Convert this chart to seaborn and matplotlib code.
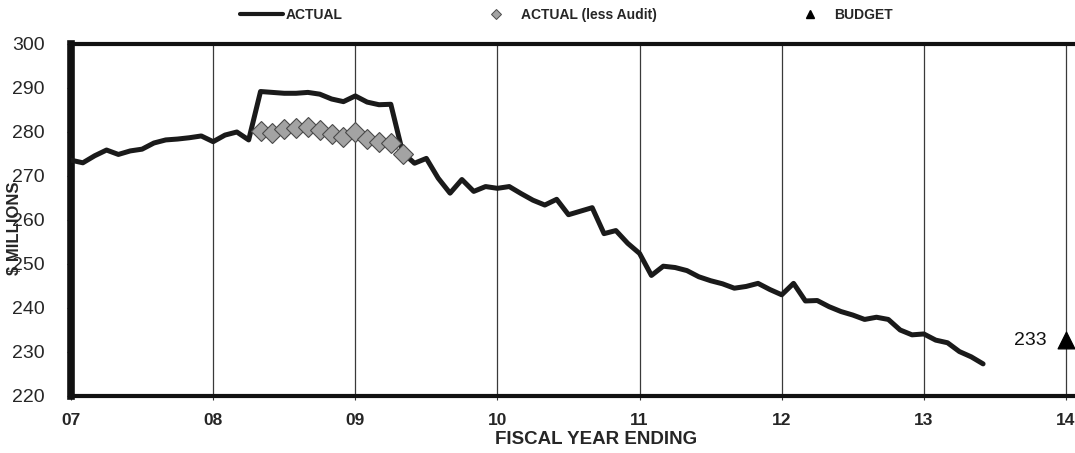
import numpy as np
import pandas as pd
import matplotlib
matplotlib.use("Agg")
import matplotlib.pyplot as plt
from matplotlib.lines import Line2D
import seaborn as sns

# ---------------- data ----------------
first_fiscal_year = 7          # series starts at FY "07"
actual = [273.6, 273.0, 274.6, 275.9, 274.9, 275.7, 276.1, 277.5, 278.2, 278.4, 278.7, 279.1,
          277.8, 279.3, 280.0, 278.2, 289.2, 289.0, 288.8, 288.8, 289.0, 288.6, 287.5, 286.9,
          288.2, 286.8, 286.2, 286.3, 275.3, 272.9, 274.0, 269.5, 266.1, 269.2, 266.5, 267.6,
          267.2, 267.6, 266.0, 264.5, 263.4, 264.7, 261.2, 262.0, 262.8, 256.9, 257.6, 254.7,
          252.4, 247.4, 249.5, 249.2, 248.5, 247.1, 246.2, 245.5, 244.5, 244.9, 245.6, 244.2,
          243.0, 245.6, 241.6, 241.7, 240.3, 239.2, 238.4, 237.4, 237.9, 237.4, 235.0, 233.9,
          234.1, 232.7, 232.1, 230.1, 228.9, 227.3]
less_audit_start_month = 16
less_audit = [280.3, 279.8, 280.7, 280.8, 281.1, 280.5, 279.5, 278.8, 280.1, 278.4,
              277.8, 277.5, 275.0]
budget_year = 14
budget_value = 232.7
budget_label = "233"
year_ticks = [7, 8, 9, 10, 11, 12, 13, 14]
year_labels = ["07", "08", "09", "10", "11", "12", "13", "14"]
y_ticks = [220, 230, 240, 250, 260, 270, 280, 290, 300]
legend_labels = ["ACTUAL", "ACTUAL (less Audit)", "BUDGET"]

df_actual = pd.DataFrame({
    "year": first_fiscal_year + np.arange(len(actual)) / 12.0,
    "value": actual,
})
df_audit = pd.DataFrame({
    "year": first_fiscal_year + (less_audit_start_month + np.arange(len(less_audit))) / 12.0,
    "value": less_audit,
})
df_budget = pd.DataFrame({"year": [budget_year], "value": [budget_value]})

# ---------------- style ----------------
sns.set_theme(style="white")
plt.rcParams["font.family"] = ["Liberation Sans", "DejaVu Sans"]

W, H = 1075, 453
fig = plt.figure(figsize=(W / 100, H / 100), dpi=100)
left_px, right_px, top_px, bottom_px = 71, 1075, 44, 396
ax = fig.add_axes([left_px / W, 1 - bottom_px / H, (right_px - left_px) / W, (bottom_px - top_px) / H])

line_col = "#1a1a1a"
sns.lineplot(data=df_actual, x="year", y="value", ax=ax, color=line_col, linewidth=3.6,
             sort=False, estimator=None, zorder=3)
ax.lines[-1].set_solid_joinstyle("round")
ax.lines[-1].set_solid_capstyle("round")
sns.lineplot(data=df_audit, x="year", y="value", ax=ax, color="#9c9c9c", linewidth=1.5,
             sort=False, estimator=None, marker="D", markersize=10,
             markerfacecolor="#a3a3a3", markeredgecolor="#4a4a4a", markeredgewidth=0.8, zorder=4)
sns.scatterplot(data=df_budget, x="year", y="value", ax=ax, marker="^", s=12 ** 2,
                color="black", edgecolor="black", zorder=5, clip_on=False, legend=False)
ax.annotate(budget_label, xy=(budget_year, budget_value), xytext=(-14, 0),
            textcoords="offset points", ha="right", va="center", fontsize=14, color="#111")

x_right = first_fiscal_year + (budget_year - first_fiscal_year) * (right_px - left_px) / (1066 - left_px)
ax.set_xlim(first_fiscal_year, x_right)
ax.set_ylim(y_ticks[0], y_ticks[-1])
ax.set_xticks(year_ticks)
ax.set_xticklabels(year_labels, fontsize=12.5, fontweight="bold")
ax.set_yticks(y_ticks)
ax.set_yticklabels([str(v) for v in y_ticks], fontsize=14)
ax.tick_params(axis="y", direction="out", length=3, width=0.8, color="#333", pad=16, left=True)
ax.tick_params(axis="x", direction="out", length=3, width=0.8, color="#333", pad=9, bottom=True)
ax.grid(axis="x", color="#3a3a3a", linewidth=0.9)
ax.grid(axis="y", visible=False)

for side, lw in (("left", 5.5), ("bottom", 3.0), ("top", 3.0)):
    ax.spines[side].set_visible(True)
    ax.spines[side].set_color("#111")
    ax.spines[side].set_linewidth(lw)
ax.spines["right"].set_visible(False)

ax.set_ylabel("\\$ MILLIONS", fontsize=12, fontweight="bold")
ax.yaxis.set_label_coords((15 - left_px) / (right_px - left_px), (bottom_px - 228) / (bottom_px - top_px))
ax.yaxis.label.set_va("center")
ax.set_xlabel("FISCAL YEAR ENDING", fontsize=13.5, fontweight="bold")
ax.xaxis.set_label_coords((596 - left_px) / (right_px - left_px), (bottom_px - 439) / (bottom_px - top_px))
ax.xaxis.label.set_va("center")

handles = [
    Line2D([], [], color=line_col, linewidth=3),
    Line2D([], [], linestyle="", marker="D", markersize=5, markerfacecolor="#a3a3a3",
           markeredgecolor="#4a4a4a", markeredgewidth=0.7),
    Line2D([], [], linestyle="", marker="^", markersize=6, color="black"),
]
fig.legend(handles, legend_labels, ncol=3, loc="center",
           bbox_to_anchor=(566.5 / W, 1 - 15 / H), frameon=False,
           prop={"weight": "bold", "size": 10}, handlelength=3.1, handletextpad=0.2,
           columnspacing=9.5, borderpad=0, borderaxespad=0)

fig.savefig("out.png", dpi=100, facecolor="white")
